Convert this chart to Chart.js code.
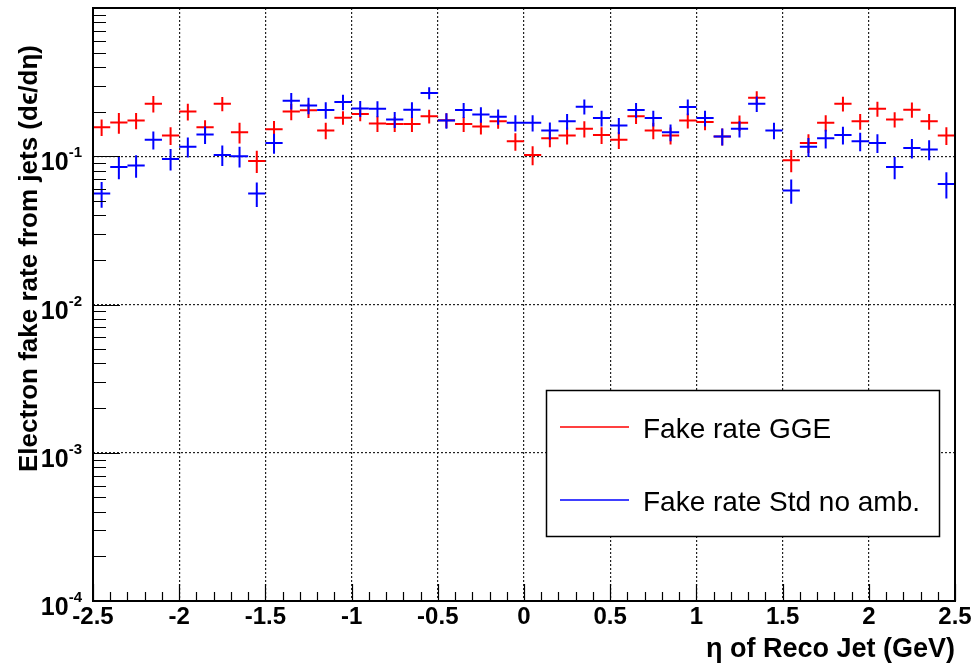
<!DOCTYPE html>
<html lang="en">
<head>
    <meta charset="UTF-8">
    <title>Electron fake rate vs eta</title>
    <script src="https://cdn.jsdelivr.net/npm/chart.js"></script>
    <style>
        html, body { margin: 0; padding: 0; background: #fff; }
        #wrap { width: 976px; height: 665px; }
    </style>
</head>
<body>
    <div id="wrap">
        <canvas id="fakeChart" width="976" height="665"></canvas>
    </div>

    <script>
        // bin centres in eta (bin width 0.1)
        const etaBins = [
            -2.45, -2.35, -2.25, -2.15, -2.05, -1.95, -1.85, -1.75, -1.65, -1.55,
            -1.45, -1.35, -1.25, -1.15, -1.05, -0.95, -0.85, -0.75, -0.65, -0.55,
            -0.45, -0.35, -0.25, -0.15, -0.05, 0.05, 0.15, 0.25, 0.35, 0.45,
            0.55, 0.65, 0.75, 0.85, 0.95, 1.05, 1.15, 1.25, 1.35, 1.45,
            1.55, 1.65, 1.75, 1.85, 1.95, 2.05, 2.15, 2.25, 2.35, 2.45
        ];
        const binHalfWidth = 0.05;

        // Fake rate GGE
        const rateGGE = [
            0.157, 0.169, 0.174, 0.226, 0.138, 0.200, 0.157, 0.226, 0.145, 0.093,
            0.152, 0.200, 0.204, 0.149, 0.182, 0.193, 0.166, 0.165, 0.165, 0.186,
            0.175, 0.165, 0.159, 0.172, 0.126, 0.102, 0.132, 0.138, 0.153, 0.139,
            0.129, 0.186, 0.149, 0.138, 0.174, 0.170, 0.136, 0.168, 0.248, null,
            0.094, 0.123, 0.168, 0.226, 0.172, 0.209, 0.177, 0.206, 0.172, 0.138
        ];
        const errGGE = [
            0.020, 0.027, 0.022, 0.029, 0.019, 0.026, 0.018, 0.025, 0.023, 0.016,
            0.021, 0.025, 0.023, 0.019, 0.019, 0.021, 0.020, 0.019, 0.019, 0.020,
            0.020, 0.019, 0.019, 0.019, 0.017, 0.015, 0.017, 0.018, 0.019, 0.018,
            0.017, 0.021, 0.019, 0.018, 0.020, 0.020, 0.018, 0.020, 0.026, null,
            0.016, 0.018, 0.021, 0.026, 0.021, 0.024, 0.021, 0.024, 0.021, 0.019
        ];

        // Fake rate Std, no ambiguity resolution
        const rateStd = [
            0.056, 0.0845, 0.0867, 0.129, 0.096, 0.116, 0.140, 0.102, 0.100, 0.056,
            0.123, 0.237, 0.220, 0.205, 0.232, 0.210, 0.209, 0.177, 0.206, 0.267,
            0.174, 0.205, 0.191, 0.185, 0.168, 0.168, 0.149, 0.172, 0.216, 0.181,
            0.161, 0.205, 0.181, 0.145, 0.215, 0.181, 0.136, 0.153, 0.226, 0.149,
            0.0588, 0.116, 0.132, 0.139, 0.126, 0.123, 0.0845, 0.1136, 0.111, 0.0649
        ];
        const errStd = [
            0.011, 0.0145, 0.015, 0.018, 0.016, 0.018, 0.019, 0.016, 0.016, 0.0105,
            0.019, 0.030, 0.028, 0.026, 0.028, 0.026, 0.026, 0.022, 0.025, 0.025,
            0.021, 0.024, 0.023, 0.022, 0.021, 0.021, 0.020, 0.021, 0.025, 0.022,
            0.020, 0.024, 0.022, 0.019, 0.026, 0.022, 0.018, 0.019, 0.027, 0.019,
            0.011, 0.017, 0.019, 0.019, 0.018, 0.018, 0.0145, 0.017, 0.017, 0.013
        ];

        const yDecades = [1e-4, 1e-3, 1e-2, 1e-1, 1];
        const yDecadeLabels = ['-4', '-3', '-2', '-1', null];

        const FONT = '"Liberation Sans", Arial, Helvetica, sans-serif';

        function toPoints(vals, errs) {
            return etaBins.map((x, i) => ({ x: x, y: vals[i], err: errs[i] }));
        }

        // histogram-style crosses: bin width horizontally, +-error vertically
        const errorCrosses = {
            id: 'errorCrosses',
            afterDatasetsDraw(chart) {
                const ctx = chart.ctx;
                const xs = chart.scales.x, ys = chart.scales.y;
                const area = chart.chartArea;
                ctx.save();
                ctx.beginPath();
                ctx.rect(area.left, area.top, area.right - area.left, area.bottom - area.top);
                ctx.clip();
                chart.data.datasets.forEach(ds => {
                    ctx.strokeStyle = ds.borderColor;
                    ctx.lineWidth = 2;
                    ds.data.forEach(p => {
                        if (p.y == null) return;
                        const py = ys.getPixelForValue(p.y);
                        const x0 = xs.getPixelForValue(p.x - binHalfWidth);
                        const x1 = xs.getPixelForValue(p.x + binHalfWidth);
                        const px = xs.getPixelForValue(p.x);
                        const lo = ys.getPixelForValue(Math.max(p.y - p.err, 1e-5));
                        const hi = ys.getPixelForValue(p.y + p.err);
                        ctx.beginPath();
                        ctx.moveTo(x0, py);
                        ctx.lineTo(x1, py);
                        ctx.moveTo(px, lo);
                        ctx.lineTo(px, hi);
                        ctx.stroke();
                    });
                });
                ctx.restore();
            }
        };

        // frame, inward ticks, 10^n labels, axis titles and legend box
        const rootFrame = {
            id: 'rootFrame',
            afterDraw(chart) {
                const ctx = chart.ctx;
                const xs = chart.scales.x, ys = chart.scales.y;
                const a = chart.chartArea;
                ctx.save();

                // ticks
                ctx.strokeStyle = '#000';
                ctx.lineWidth = 1.2;
                ctx.beginPath();
                for (let d = -4; d < 0; d++) {
                    for (let k = 1; k <= 9; k++) {
                        const v = k * Math.pow(10, d);
                        const py = Math.round(ys.getPixelForValue(v)) + 0.5;
                        ctx.moveTo(a.left, py);
                        ctx.lineTo(a.left + (k === 1 ? 27 : 13), py);
                    }
                }
                for (let i = -25; i <= 25; i++) {
                    const px = Math.round(xs.getPixelForValue(i / 10)) + 0.5;
                    ctx.moveTo(px, a.bottom);
                    ctx.lineTo(px, a.bottom - (i % 5 === 0 ? 17 : 9));
                }
                ctx.stroke();

                // frame
                ctx.lineWidth = 2;
                ctx.strokeRect(a.left, a.top, a.right - a.left, a.bottom - a.top);

                // y labels 10^n
                ctx.fillStyle = '#000';
                yDecades.forEach((v, i) => {
                    const exp = yDecadeLabels[i];
                    if (exp == null) return;
                    const py = ys.getPixelForValue(v);
                    ctx.font = 'bold 15px ' + FONT;
                    ctx.textAlign = 'right';
                    ctx.textBaseline = 'alphabetic';
                    ctx.fillText(exp, 82, py + 1);
                    const ew = ctx.measureText(exp).width;
                    ctx.font = 'bold 25px ' + FONT;
                    ctx.fillText('10', 82 - ew, py + 14);
                });

                // axis titles
                ctx.font = 'bold 27px ' + FONT;
                ctx.textAlign = 'right';
                ctx.textBaseline = 'alphabetic';
                ctx.fillText('\u03b7 of Reco Jet (GeV)', a.right, 657);

                ctx.font = 'bold 26px ' + FONT;
                ctx.save();
                ctx.translate(37, 45);
                ctx.rotate(-Math.PI / 2);
                ctx.textAlign = 'right';
                ctx.fillText('Electron fake rate from jets (d\u03f5/d\u03b7)', 0, 0);
                ctx.restore();

                // legend
                ctx.fillStyle = '#fff';
                ctx.fillRect(546, 390, 394, 147);
                ctx.strokeStyle = '#000';
                ctx.lineWidth = 1.5;
                ctx.strokeRect(546.5, 390.5, 393, 146);
                const rows = [427, 500];
                chart.data.datasets.forEach((ds, i) => {
                    const y = rows[i];
                    ctx.strokeStyle = ds.borderColor;
                    ctx.lineWidth = 1.5;
                    ctx.beginPath();
                    ctx.moveTo(560, y);
                    ctx.lineTo(629, y);
                    ctx.stroke();
                    ctx.fillStyle = '#000';
                    ctx.font = '28px ' + FONT;
                    ctx.textAlign = 'left';
                    ctx.textBaseline = 'alphabetic';
                    ctx.fillText(ds.label, 643, y + 11);
                });

                ctx.restore();
            }
        };

        const chart = new Chart(document.getElementById('fakeChart'), {
            type: 'scatter',
            data: {
                datasets: [
                    { label: 'Fake rate GGE', data: toPoints(rateGGE, errGGE), borderColor: '#ff0000', backgroundColor: '#ff0000', pointRadius: 0, showLine: false },
                    { label: 'Fake rate Std no amb.', data: toPoints(rateStd, errStd), borderColor: '#0000ff', backgroundColor: '#0000ff', pointRadius: 0, showLine: false }
                ]
            },
            options: {
                responsive: false,
                animation: false,
                devicePixelRatio: 1,
                layout: { padding: { top: 8, right: 21, left: 0, bottom: 0 } },
                plugins: { legend: { display: false }, tooltip: { enabled: false } },
                scales: {
                    x: {
                        type: 'linear',
                        min: -2.5,
                        max: 2.5,
                        ticks: {
                            stepSize: 0.5,
                            color: '#000',
                            padding: 2,
                            maxRotation: 0,
                            font: { family: FONT, size: 24, weight: 'bold' },
                            callback: v => String(Math.round(v * 10) / 10)
                        },
                        grid: {
                            drawTicks: false,
                            lineWidth: 1.2,
                            color: c => (Math.abs(c.tick.value) > 2.49 ? 'rgba(0,0,0,0)' : '#222')
                        },
                        border: { display: false, dash: [2, 2] },
                        afterFit: s => { s.height = 64; }
                    },
                    y: {
                        type: 'logarithmic',
                        min: 1e-4,
                        max: 1,
                        afterBuildTicks: s => { s.ticks = yDecades.map(v => ({ value: v })); },
                        ticks: { display: false },
                        grid: {
                            drawTicks: false,
                            lineWidth: 1.2,
                            color: c => (c.tick.value > 1.5e-4 && c.tick.value < 0.5 ? '#222' : 'rgba(0,0,0,0)')
                        },
                        border: { display: false, dash: [2, 2] },
                        afterFit: s => { s.width = 93; }
                    }
                }
            },
            plugins: [errorCrosses, rootFrame]
        });
    </script>
</body>
</html>
